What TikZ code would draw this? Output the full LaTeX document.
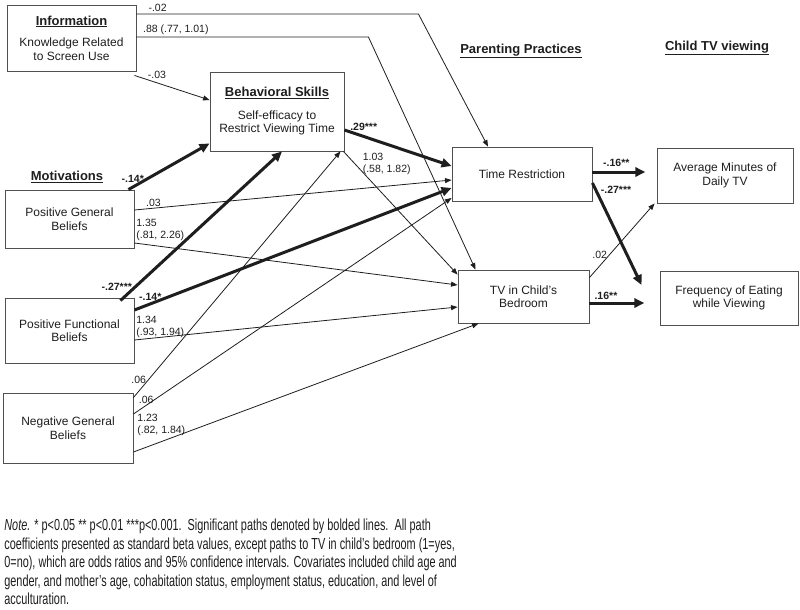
\documentclass[tikz,border=0pt]{standalone}
\usepackage{fontspec}
\setmainfont{Liberation Sans}
\newfontfamily\notefont[FakeStretch=0.68]{Liberation Sans}
\usetikzlibrary{arrows.meta,positioning}
\definecolor{inkgray}{HTML}{1E1E1E}
\definecolor{boxgray}{HTML}{505050}

\tikzset{every picture/.style={line width=0.75pt}}
\tikzset{
  box/.style={draw=boxgray, line width=0.9pt, inner sep=0pt, align=center, text=inkgray, font=\fontsize{12}{13.5}\selectfont},
  heading/.style={font=\fontsize{13}{15}\selectfont\bfseries, text=inkgray},
  coef/.style={font=\fontsize{10.5}{12}\selectfont, text=inkgray, inner sep=1.5pt, align=left},
  sig/.style={coef, font=\fontsize{10.5}{12}\selectfont\bfseries},
  thinpath/.style={draw=inkgray, line width=0.8pt, -{Triangle[length=6.5pt,width=5pt]}},
  boldpath/.style={draw=inkgray, line width=3pt, -{Triangle[length=10pt,width=9pt]}},
}
\newcommand{\boxtitle}[1]{{\fontsize{13}{15}\selectfont\bfseries\underline{#1}}}

\begin{document}
\begin{tikzpicture}[x=1pt,y=-1pt]
		\useasboundingbox (0,0) rectangle (800,610);

		% boxes
		\node[box, minimum width=129pt, minimum height=66pt] (info) at (71.5,38) {\boxtitle{Information}\\[8pt] Knowledge Related\\ to Screen Use};
		\node[box, minimum width=134pt, minimum height=79pt] (bskills) at (277,111.5) {\boxtitle{Behavioral Skills}\\[9pt] Self-efficacy to\\ Restrict Viewing Time};
		\node[box, minimum width=129pt, minimum height=58pt] (pgb) at (69.5,219) {Positive General\\ Beliefs};
		\node[box, minimum width=129pt, minimum height=65pt] (pfb) at (69.5,330.5) {Positive Functional\\ Beliefs};
		\node[box, minimum width=130pt, minimum height=70pt] (ngb) at (68,428) {Negative General\\ Beliefs};
		\node[box, minimum width=140pt, minimum height=54pt] (timer) at (522,174) {Time Restriction};
		\node[box, minimum width=131pt, minimum height=53pt] (tvbed) at (523.5,296.5) {TV in Child’s\\ Bedroom};
		\node[box, minimum width=136pt, minimum height=55pt] (avgmin) at (725,175.5) {Average Minutes of\\ Daily TV};
		\node[box, minimum width=138pt, minimum height=54pt] (freq) at (729,298) {Frequency of Eating\\ while Viewing};

		% column headings
		\node[heading] (motiv) at (67,177) {\underline{Motivations}};
		\node[heading] (parent) at (521,51) {\underline{Parenting Practices}};
		\node[heading] (child) at (717,48) {\underline{Child TV viewing}};

		% information paths
		\draw[thinpath] ([yshift=24pt]info.east) -- node[coef, pos=0.075, above] {-.02} ++(282,0) -- ([xshift=-34pt]timer.north);
		\draw[thinpath] ([yshift=1pt]info.east) -- node[coef, pos=0.17, above] {.88 (.77, 1.01)} ++(232,0) -- ([xshift=-48pt]tvbed.north);
		\draw[thinpath] ([xshift=-2pt,yshift=-4pt]info.south east) -- node[coef, pos=0.3, above=2pt] {-.03} ([yshift=11.5pt]bskills.west);

		% behavioral skills paths
		\draw[boldpath] ([xshift=-6pt]pgb.north east) -- node[sig, pos=0.24, left=1pt] {-.14*} ([yshift=8pt]bskills.south west);
		\draw[boldpath] ([xshift=-14pt,yshift=-3pt]pfb.north east) -- node[sig, pos=0.09, left] {-.27***} ([xshift=5pt]bskills.south);
		\draw[thinpath] ([yshift=-5pt]ngb.north east) -- node[coef, pos=0.07, left=0pt] {.06} ([xshift=-4pt]bskills.south east);
		\draw[boldpath] ([yshift=-18.5pt]bskills.east) -- node[sig, pos=0.18, above=3pt] {.29***} ([yshift=8pt]timer.west);
		\draw[thinpath] ([xshift=-1pt]bskills.south east) -- node[coef, pos=0.1, right=6pt] {1.03\\(.58, 1.82)} ([yshift=-5pt]tvbed.north west);

		% motivation paths
		\draw[thinpath] ([yshift=9pt]pgb.east) -- node[coef, pos=0.06, above] {.03} ([yshift=-6pt]timer.west);
		\draw[thinpath] ([yshift=-24pt]pgb.east) -- node[coef, pos=0, above right] {1.35\\(.81, 2.26)} ([yshift=11.5pt]tvbed.west);
		\draw[boldpath] ([yshift=20.5pt]pfb.east) -- node[sig, pos=0.05, above] {-.14*} ([yshift=-14pt]timer.west);
		\draw[thinpath] ([yshift=-9.5pt]pfb.east) -- node[coef, pos=0, above right] {1.34\\(.93, 1.94)} ([yshift=-10.5pt]tvbed.west);
		\draw[thinpath] ([yshift=14pt]ngb.east) -- node[coef, pos=0.04, above] {.06} ([yshift=-24pt]timer.west);
		\draw[thinpath] ([yshift=-24pt]ngb.east) -- node[coef, pos=0, above right=14pt and 2pt] {1.23\\(.82, 1.84)} ([xshift=-45pt]tvbed.south);

		% outcome paths
		\draw[boldpath] ([yshift=2pt]timer.east) -- node[sig, pos=0.45, above=2pt] {-.16**} ++(53,0);
		\draw[boldpath] ([yshift=-9pt]timer.east) -- node[sig, pos=0.07, right=2pt] {-.27***} ([xshift=-18pt,yshift=13pt]freq.west);
		\draw[thinpath] ([yshift=-8pt]tvbed.north east) -- node[coef, pos=0.3, left] {.02} ([xshift=-2pt]avgmin.south west);
		\draw[boldpath] ([yshift=-6.5pt]tvbed.east) -- node[sig, pos=0.3, above=0pt] {.16**} ++(55,0);

		% note
		\node[anchor=north west, inner sep=0pt, align=left, text=inkgray, font=\notefont\fontsize{16}{18.5}\selectfont] (note) at (4,519)
			{\textit{Note.} * p<0.05 ** p<0.01 ***p<0.001.\ \ Significant paths denoted by bolded lines.\ \ All path\\
			coefficients presented as standard beta values, except paths to TV in child’s bedroom (1=yes,\\
			0=no), which are odds ratios and 95\% confidence intervals. Covariates included child age and\\
			gender, and mother’s age, cohabitation status, employment status, education, and level of\\
			acculturation.};
	\end{tikzpicture}
\end{document}
